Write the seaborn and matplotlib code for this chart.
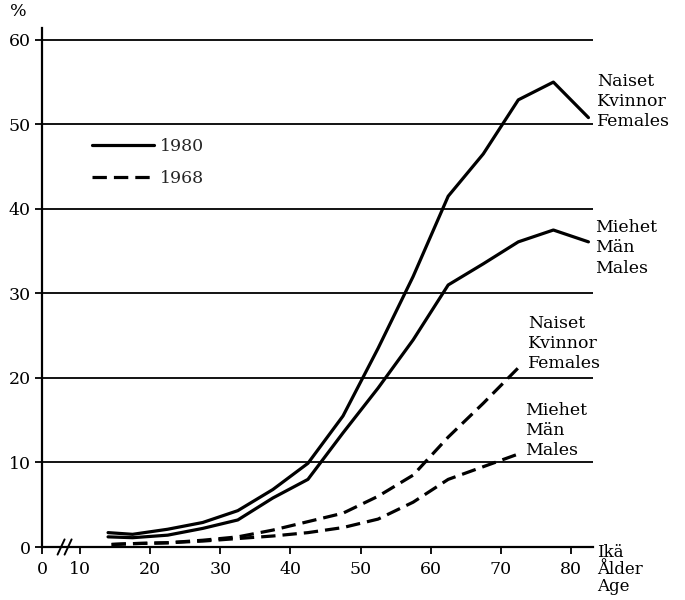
import pandas as pd
import seaborn as sns
import matplotlib.pyplot as plt
from matplotlib.lines import Line2D

# Values (% by age)
ages_1980 = [14, 17.5, 22.5, 27.5, 32.5, 37.5, 42.5, 47.5, 52.5, 57.5, 62.5, 67.5, 72.5, 77.5, 82.5]
females_1980 = [1.7, 1.5, 2.1, 2.9, 4.3, 6.8, 9.9, 15.5, 23.5, 32.0, 41.5, 46.5, 52.9, 55.0, 50.8]
males_1980 = [1.2, 1.1, 1.4, 2.2, 3.2, 5.8, 8.0, 13.5, 18.8, 24.5, 31.0, 33.5, 36.1, 37.5, 36.1]

ages_1968 = [14.5, 17.5, 22.5, 27.5, 32.5, 37.5, 42.5, 47.5, 52.5, 57.5, 62.5, 67.5, 72.5]
females_1968 = [0.3, 0.4, 0.5, 0.8, 1.2, 2.0, 3.0, 4.0, 6.0, 8.5, 13.0, 17.0, 21.2]
males_1968 = [0.3, 0.4, 0.5, 0.7, 1.0, 1.3, 1.7, 2.3, 3.3, 5.3, 8.0, 9.5, 11.0]

x_ticks = [10, 20, 30, 40, 50, 60, 70, 80]
y_ticks = [0, 10, 20, 30, 40, 50, 60]
zero_pos = 4.58  # where the "0" sits on the broken x axis

df = pd.concat([
    pd.DataFrame({'age': ages_1980, 'value': females_1980, 'sex': 'F', 'year': '1980'}),
    pd.DataFrame({'age': ages_1980, 'value': males_1980, 'sex': 'M', 'year': '1980'}),
    pd.DataFrame({'age': ages_1968, 'value': females_1968, 'sex': 'F', 'year': '1968'}),
    pd.DataFrame({'age': ages_1968, 'value': males_1968, 'sex': 'M', 'year': '1968'}),
])

sns.set_theme(style='white')
plt.rcParams['font.family'] = ['DejaVu Serif']

fig = plt.figure(figsize=(6.85, 6.0), dpi=100)
ax = fig.add_axes([42 / 685, 53 / 600, 551 / 685, 519 / 600])

dash = (0, (4.5, 2.2))
for (year, sex), sub in df.groupby(['year', 'sex']):
    sns.lineplot(data=sub, x='age', y='value', ax=ax, color='black', lw=2.3,
                 linestyle='-' if year == '1980' else dash, sort=False,
                 estimator=None)

ax.set_xlim(zero_pos, 83.15)
ax.set_ylim(0, 61.4)

ax.set_xticks([zero_pos] + x_ticks)
ax.set_xticklabels(['0'] + [str(t) for t in x_ticks])
ax.set_yticks(y_ticks)
ax.set_yticklabels([str(t) for t in y_ticks])
ax.tick_params(axis='both', labelsize=12.5, colors='black', length=5, width=1.3,
               direction='out')
ax.tick_params(axis='x', bottom=True, pad=5)
ax.tick_params(axis='y', left=True, pad=3)
ax.set_xlabel('')
ax.set_ylabel('')

ax.yaxis.grid(True, color='black', lw=1.3)
ax.xaxis.grid(False)
for side in ['top', 'right']:
    ax.spines[side].set_visible(False)
for side in ['left', 'bottom']:
    ax.spines[side].set_color('black')
    ax.spines[side].set_linewidth(1.6)

# axis break marks
for bx in [7.3, 8.3]:
    ax.plot([bx - 0.5, bx + 0.5], [-0.9, 0.9], color='black', lw=1.4, clip_on=False)

# legend
handles = [Line2D([], [], color='black', lw=2.3, linestyle='-'),
           Line2D([], [], color='black', lw=2.3, linestyle=dash)]
ax.legend(handles, ['1980', '1968'], loc='upper left', bbox_to_anchor=(0.0907, 0.788),
          frameon=False, fontsize=12.5, handlelength=3.6, handletextpad=0.3,
          labelspacing=0.85, borderpad=0, borderaxespad=0)

# series labels
kw = dict(fontsize=12.5, color='black', va='center', ha='left', clip_on=False,
          linespacing=1.25)
ax.text(83.7, 52.7, 'Naiset\nKvinnor\nFemales', **kw)
ax.text(83.5, 35.4, 'Miehet\nMän\nMales', **kw)
ax.text(73.9, 24.1, 'Naiset\nKvinnor\nFemales', **kw)
ax.text(73.5, 13.8, 'Miehet\nMän\nMales', **kw)
ax.text(83.7, -2.7, 'Ikä\nÅlder\nAge', fontsize=12, color='black', va='center',
        ha='left', clip_on=False, linespacing=1.0)

fig.text(18 / 685, 1 - 12 / 600, '%', fontsize=12.5, color='black', ha='center',
         va='center')

fig.savefig('out.png', dpi=100)
